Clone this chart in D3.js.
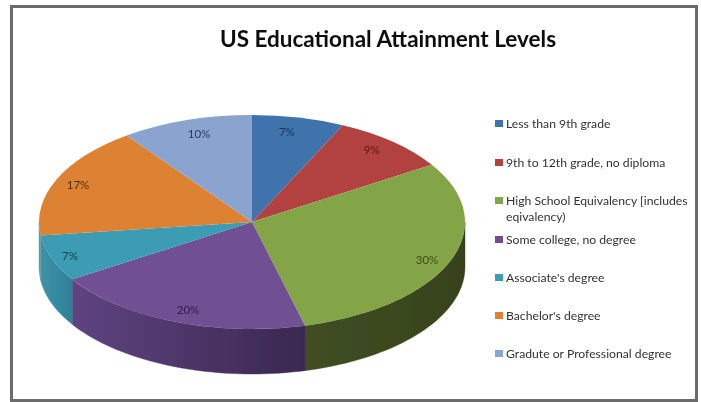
<!DOCTYPE html>
<html><head><meta charset="utf-8">
<script src="https://cdn.jsdelivr.net/npm/d3@7"></script>
<style>html,body{margin:0;padding:0;background:#fff}svg{display:block}</style></head>
<body><div id="c"></div>
<script>
const chartTitle = "US Educational Attainment Levels";
const categories = ["Less than 9th grade","9th to 12th grade, no diploma","High School Equivalency [includes eqivalency)","Some college, no degree","Associate's degree","Bachelor's degree","Gradute or Professional degree"];
const values = [7,9,30,20,7,17,10];
const topColors = ["#3f72ac","#b2423f","#84a546","#704f92","#3a9cb4","#dd8233","#8ba3cf"];
const wallLeft  = ["#2a4c73","#772c2a","#404e22","#5f4380","#3f93a9","#5a9aa0","#5d6d8a"];
const wallRight = ["#2a4c73","#772c2a","#36421c","#3a2850","#2d8196","#5a9aa0","#5d6d8a"];
const legendRows = [124,163,201,240,278,316,354];

const W=701,H=402;
const svg=d3.select("#c").append("svg").attr("width",W).attr("height",H);
const defs=svg.append("defs");
defs.append("filter").attr("id","soft").attr("x","-5%").attr("y","-5%").attr("width","110%").attr("height","110%")
  .append("feGaussianBlur").attr("stdDeviation",0.75);

svg.append("rect").attr("x",11.5).attr("y",6.5).attr("width",685).attr("height",394)
  .attr("fill","#fff").attr("stroke","#6b6b6b").attr("stroke-width",3);

const g=svg.append("g").attr("filter","url(#soft)");
const cx=252,cy=222,rx=213,ry=107,depth=45;
const xs=d3.scaleLinear().domain([-1,1]).range([cx-rx,cx+rx]);
const ys=d3.scaleLinear().domain([-1,1]).range([cy-ry,cy+ry]);
const pie=d3.pie().sort(null)(values);

// walls: the front half of the rim only
pie.forEach((d,i)=>{
  const a0=Math.max(d.startAngle,Math.PI/2), a1=Math.min(d.endAngle,Math.PI*1.5);
  if(a1<=a0) return;
  const ang=d3.range(0,41).map(k=>a0+(a1-a0)*k/40);
  const pts=ang.map(a=>[xs(Math.sin(a)),ys(-Math.cos(a))]);
  const all=pts.concat(pts.slice().reverse().map(p=>[p[0],p[1]+depth]));
  const id="w"+i, lg=defs.append("linearGradient").attr("id",id).attr("gradientUnits","userSpaceOnUse")
    .attr("x1",d3.min(pts,p=>p[0])).attr("x2",d3.max(pts,p=>p[0])).attr("y1",0).attr("y2",0);
  lg.append("stop").attr("offset",0).attr("stop-color",wallLeft[i]);
  lg.append("stop").attr("offset",1).attr("stop-color",wallRight[i]);
  g.append("path").attr("d",d3.line()(all)+"Z").attr("fill",`url(#${id})`).attr("stroke",`url(#${id})`).attr("stroke-width",0.4);
});

// top face: unit arcs through the ellipse scales
const arc=d3.arc().innerRadius(0).outerRadius(1);
const face=g.append("g").attr("transform",`translate(${cx},${cy}) scale(${rx},${ry})`);
face.selectAll("path").data(pie).join("path").attr("d",arc).attr("fill",(d,i)=>topColors[i]);

// percentage labels
const labelAt=[[.75,.85],[.85,.885],[.884,.99],[.816,.895],[.908,.965],[.89,.85],[.805,.855]];
const labelCols=["#1d3554","#5a1514","#3d4a20","#2f1c47","#143f4d","#4f2c0c","#2c3a5c"];
g.selectAll("text.p").data(pie).join("text").attr("class","p")
  .attr("x",(d,i)=>{const a=(d.startAngle+d.endAngle)/2;return xs(Math.sin(a)*labelAt[i][0]);})
  .attr("y",(d,i)=>{const a=(d.startAngle+d.endAngle)/2;return ys(-Math.cos(a)*labelAt[i][1]);})
  .attr("text-anchor","middle").attr("dominant-baseline","middle")
  .attr("font-family","Lato").attr("font-size",11.5).attr("fill",(d,i)=>labelCols[i])
  .text((d,i)=>values[i]+"%");

g.append("text").attr("x",388).attr("y",47).attr("text-anchor","middle")
  .attr("font-family","Lato").attr("font-weight","bold").attr("font-size",22.5).attr("fill","#111").text(chartTitle);

const wrap=s=>s.startsWith("High School")?["High School Equivalency [includes","eqivalency)"]:[s];
const leg=g.selectAll("g.l").data(categories).join("g").attr("class","l");
leg.append("rect").attr("x",495).attr("y",(d,i)=>legendRows[i]-4).attr("width",8).attr("height",7).attr("fill",(d,i)=>topColors[i]);
leg.each(function(d,i){
  const t=d3.select(this).append("text").attr("x",506).attr("y",legendRows[i]+4)
   .attr("font-family","Lato").attr("font-size",12.2).attr("fill","#333");
  wrap(d).forEach((s,k)=>t.append("tspan").attr("x",506).attr("dy",k?16:0).text(s));
});
</script></body></html>
